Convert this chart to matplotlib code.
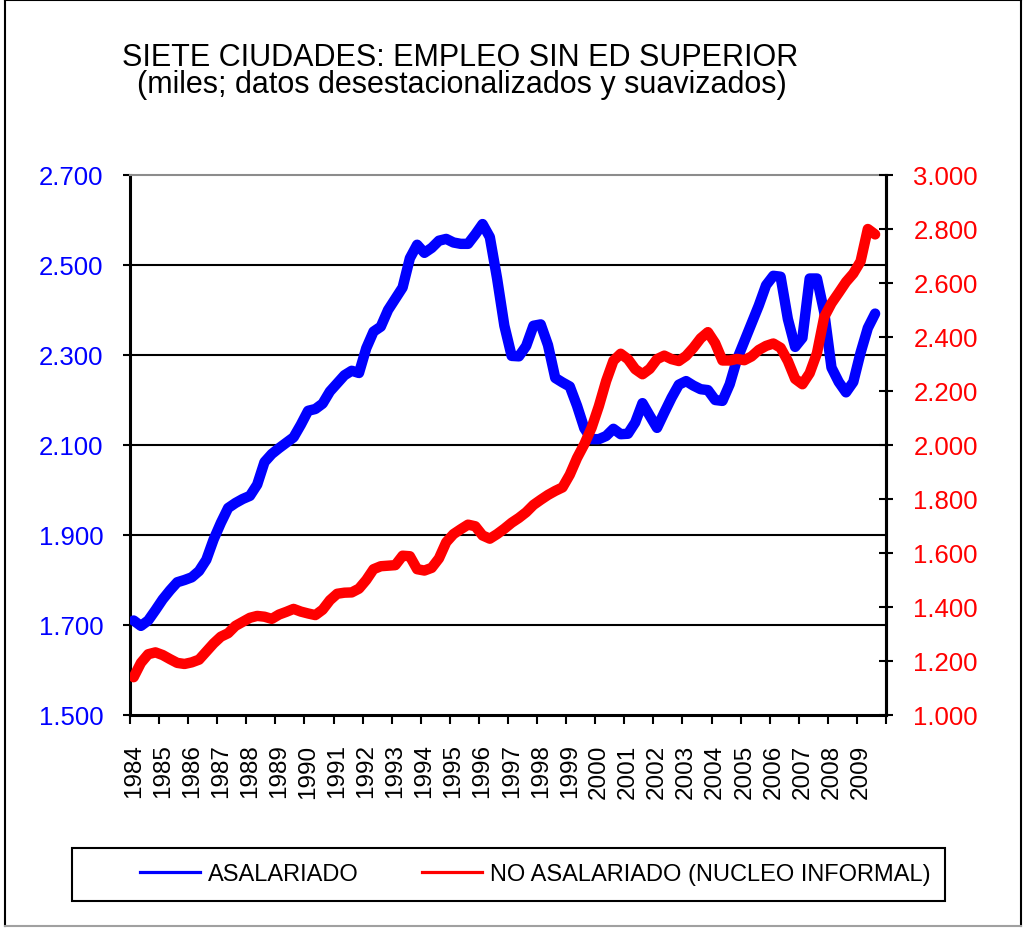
import numpy as np
import matplotlib
matplotlib.use("Agg")
import matplotlib.pyplot as plt
from matplotlib.ticker import FuncFormatter
from matplotlib.lines import Line2D
from matplotlib.patches import Rectangle

plt.rcParams['font.family'] = ['Liberation Sans', 'DejaVu Sans']

# ---------------- data (thousands of persons, quarterly from 1984Q1) ----------------
years = list(range(1984, 2010))
asalariado = [1710, 1698, 1710, 1733, 1757, 1777, 1795, 1800, 1806, 1820,
              1845, 1890, 1927, 1960, 1971, 1980, 1987, 2012, 2062, 2080,
              2093, 2105, 2117, 2145, 2176, 2180, 2192, 2219, 2237, 2255,
              2265, 2260, 2315, 2352, 2363, 2400, 2425, 2450, 2515, 2545,
              2527, 2538, 2554, 2558, 2550, 2547, 2547, 2568, 2591, 2562,
              2470, 2365, 2298, 2297, 2320, 2365, 2368, 2322, 2249, 2239,
              2230, 2187, 2137, 2113, 2113, 2120, 2136, 2124, 2125, 2150,
              2193, 2165, 2138, 2172, 2205, 2234, 2242, 2232, 2224, 2222,
              2200, 2198, 2235, 2290, 2330, 2370, 2410, 2455, 2476, 2474,
              2380, 2318, 2338, 2470, 2470, 2395, 2272, 2240, 2217, 2240,
              2305, 2360, 2392]
no_asalariado = [1140, 1193, 1225, 1232, 1222, 1207, 1193, 1189, 1195, 1205,
                 1235, 1265, 1290, 1303, 1330, 1345, 1360, 1367, 1364, 1356,
                 1372, 1382, 1393, 1383, 1376, 1370, 1390, 1425, 1449, 1453,
                 1454, 1468, 1500, 1540, 1551, 1553, 1555, 1590, 1588, 1540,
                 1535, 1545, 1580, 1640, 1670, 1688, 1705, 1699, 1665, 1653,
                 1670, 1690, 1712, 1730, 1751, 1778, 1797, 1815, 1830, 1843,
                 1890, 1952, 2003, 2064, 2144, 2237, 2312, 2338, 2318, 2281,
                 2262, 2282, 2318, 2331, 2318, 2311, 2330, 2360, 2395, 2418,
                 2377, 2313, 2313, 2319, 2314, 2328, 2352, 2367, 2376, 2360,
                 2311, 2245, 2225, 2266, 2340, 2474, 2525, 2564, 2604, 2635,
                 2680, 2800, 2780]
left_ticks = list(range(1500, 2701, 200))
right_ticks = list(range(1000, 3001, 200))
title = "SIETE CIUDADES: EMPLEO SIN ED SUPERIOR"
subtitle = "(miles; datos desestacionalizados y suavizados)"
labels = ["ASALARIADO", "NO ASALARIADO (NUCLEO INFORMAL)"]

BLUE = "#0000FF"
RED = "#FF0000"
W, H = 1025, 929

fig = plt.figure(figsize=(W / 100, H / 100), dpi=100)
fig.patch.set_facecolor("white")

L, R, T, B = 130, 886, 176, 716
ax = fig.add_axes([L / W, 1 - B / H, (R - L) / W, (B - T) / H])
n_cat = 4 * len(years)
x = np.arange(len(asalariado))

fmt = FuncFormatter(lambda v, p: f"{v:,.0f}".replace(",", "."))

# left axis
ax.set_xlim(-0.5, n_cat - 0.5)
ax.set_ylim(left_ticks[0], left_ticks[-1])
ax.set_yticks(left_ticks)
ax.yaxis.set_major_formatter(fmt)
ax.tick_params(axis='y', direction='out', length=5, width=1.5, pad=14.0,
               labelsize=18.5, labelcolor=BLUE, color='black')
ax.hlines(left_ticks[1:-1], 0, 1, transform=ax.get_yaxis_transform(),
          colors='black', lw=1.5, zorder=1)

ax.set_xticks(np.arange(-0.5, n_cat, 4))
ax.set_xticks(np.arange(0, n_cat, 4), minor=True)
ax.set_xticklabels([str(y) for y in years], minor=True, rotation=90)
ax.tick_params(axis='x', which='major', direction='out', length=6.5, width=1.5,
               labelbottom=False)
ax.tick_params(axis='x', which='minor', length=0, pad=20.5, labelsize=17.5)

for s in ['left', 'bottom', 'right']:
    ax.spines[s].set_linewidth(2.2)
    ax.spines[s].set_color('black')
ax.spines['top'].set_color('#8c8c8c')
ax.spines['top'].set_linewidth(1.5)

ax.plot(x, asalariado, color=BLUE, lw=7.5, solid_capstyle='round',
        solid_joinstyle='round', zorder=3)

# right axis
ax2 = ax.twinx()
ax2.set_ylim(right_ticks[0], right_ticks[-1])
ax2.set_yticks(right_ticks)
ax2.yaxis.set_major_formatter(fmt)
ax2.tick_params(axis='y', direction='inout', length=9.4, width=1.5, pad=15.0,
                labelsize=18.5, labelcolor=RED, color='black')
for s in ['left', 'bottom', 'top']:
    ax2.spines[s].set_visible(False)
ax2.spines['right'].set_linewidth(2.2)
ax2.spines['right'].set_color('black')
ax2.plot(x, no_asalariado, color=RED, lw=7.5, solid_capstyle='round',
         solid_joinstyle='round', zorder=3)

# titles
fig.text(460 / W, 1 - 66 / H, title, ha='center', va='baseline', fontsize=22)
fig.text(462 / W, 1 - 93 / H, subtitle, ha='center', va='baseline', fontsize=22)

# legend
handles = [Line2D([], [], color=BLUE, lw=2.3), Line2D([], [], color=RED, lw=2.3)]
fig.legend(handles, labels, loc='center left', bbox_to_anchor=(140 / W, 1 - 875 / H),
           ncol=2, frameon=False, fontsize=17, handlelength=2.55, handletextpad=0.34,
           columnspacing=2.65, borderpad=0, borderaxespad=0)
fig.patches.append(Rectangle((72 / W, 1 - 902 / H), (945 - 72) / W, (902 - 849) / H,
                             transform=fig.transFigure, fill=False, ec='black', lw=1.5))

# outer border
fig.lines.append(Line2D([5 / W, 5 / W], [1 - 927 / H, 1 - 1 / H], transform=fig.transFigure, color='black', lw=1.5))
fig.lines.append(Line2D([5 / W, 1021 / W], [1 - 1 / H, 1 - 1 / H], transform=fig.transFigure, color='black', lw=1.5))
fig.lines.append(Line2D([1021 / W, 1021 / W], [1 - 927 / H, 1 - 1 / H], transform=fig.transFigure, color='black', lw=1.5))
fig.lines.append(Line2D([5 / W, 1021 / W], [1 - 927 / H, 1 - 927 / H], transform=fig.transFigure, color='#a0a0a0', lw=1.5))

fig.savefig("out.png", dpi=100)
